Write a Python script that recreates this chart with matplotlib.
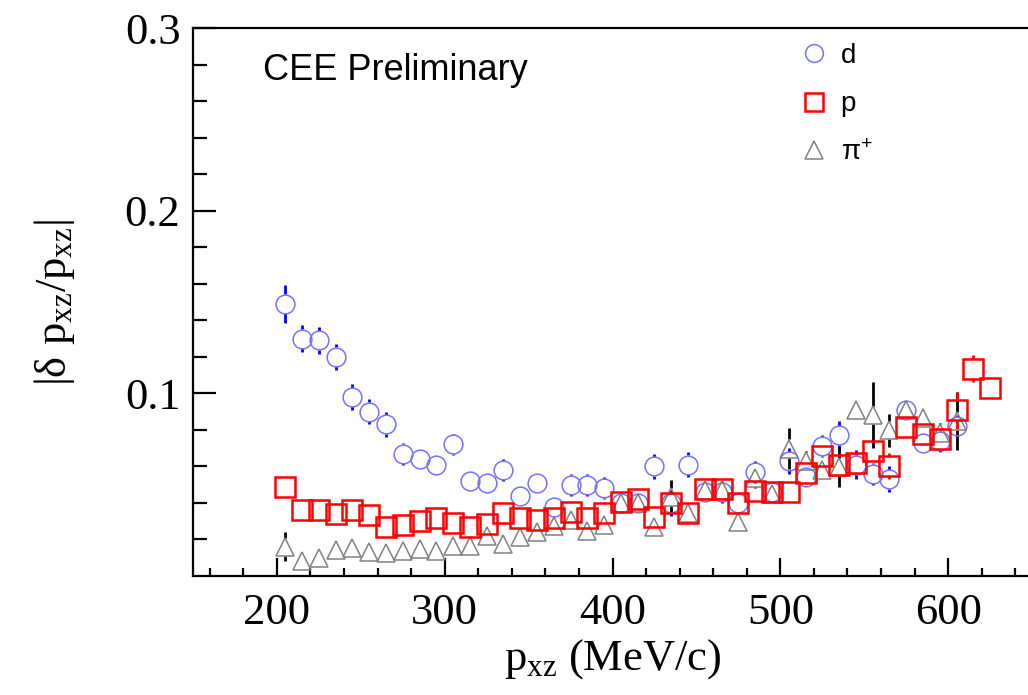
import numpy as np
import matplotlib
matplotlib.use("Agg")
import matplotlib.pyplot as plt
from matplotlib.ticker import MultipleLocator, FixedLocator

plt.rcParams['font.family'] = ['Liberation Serif', 'DejaVu Serif']
plt.rcParams['mathtext.fontset'] = 'custom'
plt.rcParams['mathtext.rm'] = 'Liberation Serif'
plt.rcParams['mathtext.it'] = 'Liberation Serif:italic'

# bin centres (MeV/c)
p_xz = np.array([205, 215, 225, 235, 245, 255, 265, 275, 285, 295,
                 305, 315, 325, 335, 345, 355, 365, 375, 385, 395,
                 405, 415, 425, 435, 445, 455, 465, 475, 485, 495,
                 505, 515, 525, 535, 545, 555, 565, 575, 585, 595,
                 605, 615, 625])

# deuteron
d_res = np.array([0.149, 0.130, 0.129, 0.120, 0.098, 0.090, 0.083, 0.067, 0.064, 0.061,
                  0.072, 0.052, 0.051, 0.058, 0.044, 0.051, 0.038, 0.050, 0.050, 0.048,
                  0.040, 0.040, 0.060, 0.040, 0.061, 0.046, 0.046, 0.040, 0.057, 0.046,
                  0.063, 0.054, 0.071, 0.077, 0.061, 0.056, 0.053, 0.091, 0.073, 0.074,
                  0.082])
d_err = np.array([0.0105, 0.0075, 0.0075, 0.007, 0.007, 0.007, 0.007, 0.006, 0.005, 0.004,
                  0.006, 0.004, 0.004, 0.006, 0.004, 0.004, 0.003, 0.006, 0.006, 0.006,
                  0.005, 0.005, 0.007, 0.007, 0.007, 0.005, 0.006, 0.005, 0.006, 0.005,
                  0.007, 0.005, 0.006, 0.008, 0.008, 0.006, 0.007, 0.005, 0.005, 0.006,
                  0.006])

# proton
p_res = np.array([0.0488, 0.0364, 0.0364, 0.0339, 0.0364, 0.0333, 0.0270, 0.0279, 0.0300, 0.0319,
                  0.0288, 0.0270, 0.0283, 0.0343, 0.0320, 0.0306, 0.0320, 0.0351, 0.0320, 0.0343,
                  0.0405, 0.0420, 0.0324, 0.0397, 0.0343, 0.0474, 0.0474, 0.0400, 0.0464, 0.0458,
                  0.0460, 0.0565, 0.0656, 0.0607, 0.0616, 0.0685, 0.0601, 0.0816, 0.0780, 0.0749,
                  0.0907, 0.1135, 0.1030])
p_err = np.array([0.003, 0.002, 0.002, 0.002, 0.002, 0.002, 0.002, 0.002, 0.002, 0.002,
                  0.002, 0.002, 0.002, 0.002, 0.002, 0.002, 0.002, 0.002, 0.002, 0.002,
                  0.002, 0.002, 0.003, 0.003, 0.003, 0.003, 0.003, 0.003, 0.003, 0.003,
                  0.003, 0.003, 0.004, 0.004, 0.004, 0.004, 0.007, 0.004, 0.004, 0.004,
                  0.010, 0.0075, 0.004])

# pi+
pi_res = np.array([0.0160, 0.0084, 0.0098, 0.0142, 0.0151, 0.0133, 0.0126, 0.0135, 0.0150, 0.0138,
                   0.0164, 0.0164, 0.0219, 0.0173, 0.0211, 0.0239, 0.0273, 0.0304, 0.0248, 0.0282,
                   0.0397, 0.0400, 0.0270, 0.0434, 0.0346, 0.0470, 0.0470, 0.0297, 0.0534, 0.0450,
                   0.0698, 0.0632, 0.0580, 0.0597, 0.0907, 0.0880, 0.0798, 0.0907, 0.0867, 0.0785,
                   0.0850])
pi_err = np.array([0.008, 0.002, 0.002, 0.002, 0.002, 0.002, 0.002, 0.002, 0.002, 0.002,
                   0.002, 0.002, 0.003, 0.003, 0.003, 0.003, 0.003, 0.003, 0.003, 0.003,
                   0.004, 0.004, 0.004, 0.009, 0.004, 0.004, 0.004, 0.004, 0.005, 0.005,
                   0.011, 0.005, 0.005, 0.011, 0.005, 0.018, 0.009, 0.005, 0.005, 0.005,
                   0.016])

fig = plt.figure(figsize=(10.28, 6.95), dpi=100)
ax = fig.add_axes([0.1877, 0.1712, 0.8163, 0.7885])
ax.set_xlim(150, 650)
ax.set_ylim(0, 0.3)

px_per_unit = ax.get_window_extent().height / 0.3


def draw_err(x, y, e, ms, color, lw):
    # ROOT style: error bar drawn only outside the marker
    gap = ms / 2 * fig.dpi / 72 / px_per_unit
    m = e > gap
    ax.vlines(x[m], y[m] + gap, y[m] + e[m], color=color, lw=lw, zorder=2)
    ax.vlines(x[m], y[m] - e[m], y[m] - gap, color=color, lw=lw, zorder=2)


n_d = len(d_res)
n_pi = len(pi_res)

ms_d, ms_p, ms_pi = 13.5, 14.0, 13.0
draw_err(p_xz[:n_d], d_res, d_err, ms_d, '#0000ff', 2.0)
draw_err(p_xz[:n_pi], pi_res, pi_err, ms_pi, 'black', 2.0)
draw_err(p_xz, p_res, p_err, ms_p, '#ff0000', 2.0)

ax.plot(p_xz[:n_d], d_res, 'o', ms=ms_d, mfc='none', mec='#7373ff', mew=1.1, label='d', zorder=3)
ax.plot(p_xz, p_res, 's', ms=ms_p, mfc='none', mec='#ff0000', mew=1.8, label='p', zorder=5)
ax.plot(p_xz[:n_pi], pi_res, '^', ms=ms_pi, mfc='none', mec='#808080', mew=1.1,
        label=r'$\mathregular{\pi^{+}}$', zorder=4)

# axes styling
for s in ax.spines.values():
    s.set_linewidth(1.6)
ax.xaxis.set_major_locator(MultipleLocator(100))
ax.xaxis.set_minor_locator(MultipleLocator(20))
ax.yaxis.set_major_locator(FixedLocator([0.1, 0.2, 0.3]))
ax.yaxis.set_minor_locator(FixedLocator([0.02, 0.04, 0.06, 0.08, 0.12, 0.14, 0.16, 0.18,
                                         0.22, 0.24, 0.26, 0.28]))
ax.yaxis.set_major_formatter(plt.FuncFormatter(lambda v, p: f'{v:.1f}'))
ax.tick_params(axis='both', which='both', direction='in', width=1.6, labelsize=32)
ax.tick_params(axis='y', which='major', length=16.5, pad=9)
ax.tick_params(axis='y', which='minor', length=10)
ax.tick_params(axis='x', which='major', length=13, pad=12)
ax.tick_params(axis='x', which='minor', length=6)

ax.set_xlabel(r'$\mathrm{p}_{\mathrm{xz}}$ (MeV/c)', fontsize=32, labelpad=3)
ax.set_ylabel(r'|δ $\mathrm{p}_{\mathrm{xz}}$/$\mathrm{p}_{\mathrm{xz}}$|', fontsize=32, labelpad=34)

ax.text(0.0834, 0.905, 'CEE Preliminary', transform=ax.transAxes, fontsize=26,
        family=['Liberation Sans', 'DejaVu Sans'], va='baseline', ha='left')

leg = ax.legend(loc='upper left', bbox_to_anchor=(0.694, 1.019), frameon=False,
                prop={'family': ['Liberation Sans', 'DejaVu Sans'], 'size': 20},
                handlelength=1.0, handletextpad=0.45, labelspacing=0.82, markerscale=0.95)

fig.savefig('out.png', dpi=100)
